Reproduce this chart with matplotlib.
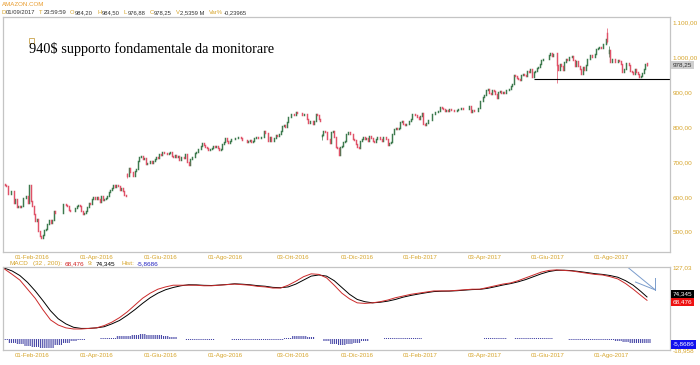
import numpy as np
import pandas as pd
import matplotlib
matplotlib.use("Agg")
import matplotlib.pyplot as plt
import matplotlib.transforms as mtrans
from matplotlib.patches import Rectangle

# AMAZON.COM daily closes, 05-Jan-2016 .. 01-Sep-2017
close_2016 = [
    633.79, 632.65, 607.94, 607.05, 617.74, 617.89, 581.81, 593.00, 570.18, 574.48,
    571.77, 575.02, 596.38, 596.53, 601.25, 583.35, 635.35, 587.00,
    574.81, 552.10, 531.07, 536.26, 502.13, 488.10, 482.07, 490.48, 503.82, 507.08,
    521.10, 534.10, 525.00, 534.90, 559.50, 552.94, 554.04, 555.15, 555.23, 552.52,
    579.04, 580.21, 577.49, 575.14, 562.80, 560.26, 559.47, 558.93, 569.61, 573.37,
    577.02, 574.27, 559.44, 552.08, 553.98, 560.48, 569.63, 582.95, 579.87, 593.86,
    598.69, 593.64,
    598.50, 593.19, 586.14, 602.08, 591.43, 594.60, 595.93, 603.17, 614.82, 620.75,
    625.89, 635.35, 627.90, 632.99, 631.00, 620.50, 626.20, 616.88, 606.57, 602.00,
    659.59,
    683.85, 671.32, 670.90, 659.09, 673.95, 679.75, 703.07, 713.23, 717.93, 709.92,
    710.66, 695.27, 697.45, 698.52, 702.80, 696.75, 704.20, 708.35, 714.91, 712.24,
    722.79,
    719.44, 728.24, 725.54, 726.73, 723.74, 726.64, 727.65, 717.91, 715.24, 719.30,
    714.26, 717.51, 706.39, 714.01, 715.82, 710.60, 722.08, 698.96, 691.36, 707.95,
    715.60, 715.62,
    725.68, 728.10, 737.61, 736.57, 745.81, 753.78, 748.21, 742.63, 741.20, 735.44,
    736.07, 739.95, 745.72, 744.43, 744.86, 739.61, 735.59, 736.67, 752.61, 758.81,
    767.74, 760.58, 754.64, 760.77, 765.98, 766.56, 768.31, 768.56, 771.24, 772.56,
    768.49, 764.04, 764.63, 764.46, 757.31, 759.48, 762.45, 757.25, 759.22, 769.00,
    771.29, 767.58, 769.16,
    770.62, 772.44, 788.87, 784.48, 784.06, 760.14, 771.49, 761.01, 761.09, 769.69,
    778.52, 775.10, 780.22, 789.74, 804.70, 805.75, 799.16, 816.11, 828.72, 829.05,
    837.31,
    836.74, 834.03, 844.36, 841.66, 839.43, 841.71, 834.09, 837.04, 836.53, 822.96,
    812.95, 817.65, 817.69, 810.32, 818.99, 838.09, 835.18, 822.59, 818.36, 776.32,
    789.82,
    785.41, 765.56, 767.03, 755.05, 784.93, 787.75, 771.88, 742.38, 739.01, 719.07,
    743.24, 746.49, 756.40, 760.16, 780.00, 785.33, 780.12, 780.37, 766.77, 762.52,
    750.57,
    743.65, 740.34, 759.36, 764.72, 770.42, 767.33, 768.66, 760.12, 774.34, 768.82,
    761.00, 757.77, 766.00, 771.22, 770.60, 766.34, 760.59, 771.40, 772.13, 765.15,
    749.87,
]
close_2017 = [
    753.67, 757.18, 780.45, 795.99, 796.92, 795.90, 799.02, 813.64, 817.14, 809.72,
    807.48, 809.04, 808.33, 817.88, 822.44, 836.52, 839.15, 835.77, 830.38, 823.48,
    832.35, 839.95, 810.20, 807.64, 812.50, 819.71, 821.36, 821.95, 836.53, 836.39,
    842.70, 844.14, 845.07, 856.44, 855.61, 852.19, 845.24, 848.64, 845.04,
    853.08, 848.91, 849.88, 846.61, 846.02, 850.50, 853.00, 852.46, 854.59, 852.53,
    852.97, 853.42, 852.31, 861.41, 843.20, 848.06, 847.38, 845.61, 846.82, 856.00,
    874.32, 876.34, 886.54,
    891.51, 906.83, 909.28, 898.28, 894.88, 907.04, 902.36, 896.23, 884.67, 901.99,
    903.78, 899.20, 902.06, 898.53, 907.41, 907.62, 909.29, 918.38, 924.99,
    948.23, 946.94, 941.03, 937.53, 934.15, 949.04, 952.82, 948.95, 947.62, 961.35,
    957.97, 966.07, 944.76, 958.49, 959.84, 970.67, 971.54, 980.35, 993.38, 995.78,
    996.70, 994.62,
    995.95, 1006.73, 1011.34, 1003.00, 1010.07, 1010.27, 978.31, 964.91, 980.79, 976.47,
    964.17, 987.71, 995.17, 992.59, 1002.23, 1001.30, 1003.74, 993.98, 976.78, 990.33,
    975.93, 968.00,
    953.66, 971.40, 965.14, 978.76, 996.47, 994.13, 1006.51, 1000.63, 1001.81, 1010.04,
    1024.38, 1026.87, 1028.70, 1025.67, 1038.95, 1039.87, 1052.80, 1046.00, 1020.04, 987.78,
    996.19, 995.89, 986.92, 987.58, 992.27, 989.84, 982.01, 956.92, 967.99, 983.30,
    982.74, 978.18, 960.57, 958.47, 953.29, 966.90, 958.00, 952.45, 945.26, 946.02,
    954.06, 967.59, 980.60,
    978.25,
]
first_open = 636.99
holidays = ['2016-01-18', '2016-02-15', '2016-03-25', '2016-05-30', '2016-07-04',
            '2016-09-05', '2016-11-24', '2016-12-26', '2017-01-02', '2017-01-16',
            '2017-02-20', '2017-04-14', '2017-05-29', '2017-07-04']

# bars with gaps / long shadows
gap_days = ['2016-04-29', '2016-10-28', '2017-06-09', '2017-07-27', '2017-07-28', '2017-09-01']
gap_open = [666.83, 775.48, 1012.50, 1069.55, 1012.59, 984.20]
gap_high = [669.98, 781.50, 1012.99, 1083.31, 1032.85, 984.50]
gap_low = [654.50, 763.45, 927.00, 1040.18, 1001.52, 976.88]

price_ticks = [500, 600, 700, 800, 900, 1000, 1100]
price_labels = ['500,00', '600,00', '700,00', '800,00', '900,00', '1.000,00', '1.100,00']
last_price = 978.25

date_ticks = ['2016-02-01', '2016-04-01', '2016-06-01', '2016-08-01', '2016-10-03',
              '2016-12-01', '2017-02-01', '2017-04-03', '2017-06-01', '2017-08-01']
date_labels = ['01-Feb-2016', '01-Apr-2016', '01-Giu-2016', '01-Ago-2016', '03-Ott-2016',
               '01-Dic-2016', '01-Feb-2017', '03-Apr-2017', '01-Giu-2017', '01-Ago-2017']

support = 938
support_from = '2017-05-18'

# MACD (32, 200) and signal (9), one reading every 5 bars + last bar
macd_step = 5
macd_line = [
    123.5, 114, 104, 88, 72, 52, 34, 25, 20, 18,
    18, 19, 20, 24, 30, 38, 48, 60, 72, 81,
    88, 92, 95, 95, 95, 95, 94, 94, 95, 96,
    97, 96, 95, 93, 92, 90, 90, 95, 102, 110,
    115, 114, 108, 95, 81, 71, 64, 63, 64, 66,
    69, 73, 76, 79, 81, 83, 85, 85, 85, 86,
    87, 88, 88, 91, 94, 97, 99, 103, 108, 113,
    118, 121, 122, 121, 120, 118, 116, 114, 113, 110,
    106, 98, 88, 77, 68.476,
]
signal_line = [
    125, 120, 112, 100, 85, 68, 50, 36, 27, 21,
    19, 19, 20, 22, 27, 33, 42, 52, 63, 73,
    81, 87, 91, 94, 95.8, 95.6, 94.8, 94.5, 95.3, 96.2,
    97.5, 96.8, 95.8, 94.2, 93.2, 91.2, 90.6, 92, 97, 104,
    111, 113, 111, 103, 91, 79, 70, 66, 64, 65,
    67, 70, 74, 77, 79.5, 81.8, 83.8, 84.4, 84.6, 85.3,
    86.3, 87.3, 87.7, 89.5, 92.3, 95.3, 97.8, 101, 105, 110,
    115, 119, 121.2, 121.4, 120.6, 119, 117.2, 115.3, 114, 112,
    109, 103, 95, 84, 74.345,
]
macd_lo, macd_hi = -18.958, 127.03

GOLD = '#d6a42a'
GREEN = '#3d7a4e'
RED = '#e05268'
FRAME = '#c4c4c4'
DARK = '#333333'
plt.rcParams['font.family'] = ['Liberation Sans', 'DejaVu Sans']
plt.rcParams['hatch.linewidth'] = 0.8

close = np.array(close_2016 + close_2017)
dates = pd.bdate_range('2016-01-05', '2017-09-01', freq='C', holidays=holidays)
dates = dates[:len(close)]
x = np.arange(len(close))
opn = np.r_[first_open, close[:-1]]
high = np.maximum(opn, close)
low = np.minimum(opn, close)
for d, o, h, l in zip(gap_days, gap_open, gap_high, gap_low):
    i = dates.get_loc(pd.Timestamp(d))
    opn[i], high[i], low[i] = o, h, l

W, H = 700, 365
fig = plt.figure(figsize=(W / 100, H / 100), dpi=100)
renderer = fig.canvas.get_renderer()


def px(xp, yp):
    return xp / W, 1 - yp / H


ax1 = fig.add_axes([3 / W, 1 - 252 / H, 667 / W, 235 / H])
ax2 = fig.add_axes([3 / W, 1 - 350 / H, 667 / W, 83 / H])

# candles
up = close >= opn
for mask, col in ((up, GREEN), (~up, RED)):
    ax1.vlines(x[mask], low[mask], high[mask], color=col, lw=0.5)
    lc = ax1.vlines(x[mask], np.minimum(opn, close)[mask], np.maximum(opn, close)[mask],
                    color=col, lw=1.05)
    lc.set_capstyle('projecting')

i0 = dates.get_loc(pd.Timestamp(support_from))
ax1.hlines(support, i0, 440, color='black', lw=0.8)

ax1.set_ylim(442, 1116)
tick_idx = [dates.searchsorted(pd.Timestamp(d)) for d in date_ticks]
for ax in (ax1, ax2):
    ax.set_xlim(-1, 434)
    for s in ax.spines.values():
        s.set_color(FRAME)
        s.set_linewidth(0.9)
    ax.yaxis.tick_right()
    ax.set_xticks(tick_idx)
    ax.set_xticklabels(date_labels)
    ax.tick_params(length=0, labelsize=4.4, labelcolor=GOLD, pad=2)
    ax.tick_params(axis='y', pad=2, labelsize=4.6)

ax1.set_yticks(price_ticks)
ax1.set_yticklabels(price_labels)
trans1 = mtrans.blended_transform_factory(ax1.transAxes, ax1.transData)
ax1.text(1.004, last_price, '978,25', transform=trans1, fontsize=4.6, color=DARK,
         va='center', ha='left',
         bbox=dict(boxstyle='square,pad=0.25', fc='#cfcfcf', ec='none'))

# MACD panel
mx = np.r_[np.arange(0, len(close), macd_step), len(close) - 1]
macd = np.array(macd_line)
sig = np.array(signal_line)
hist = macd - sig
ax2.bar(mx, hist, width=macd_step, color='white', edgecolor='#4646a6', lw=0,
        hatch='|' * 8)
ax2.plot(mx, sig, color='black', lw=0.7)
ax2.plot(mx, macd, color='#cc2a2a', lw=0.7)
ax2.set_ylim(macd_lo, macd_hi)
ax2.set_yticks([macd_lo, macd_hi])
ax2.set_yticklabels(['-18,958', '127,03'])

trans2 = mtrans.blended_transform_factory(ax2.transAxes, ax2.transData)
for val, txt, fc, dy in ((sig[-1], '74,345', 'black', 5), (macd[-1], '68,476', '#ee1111', -3),
                         (hist[-1], '-5,8686', '#1010ee', -3)):
    ax2.text(1.004, val + dy, txt, transform=trans2, fontsize=4.6, color='white',
             va='center', ha='left',
             bbox=dict(boxstyle='square,pad=0.3', fc=fc, ec='none'))

# hand-drawn arrow
arrow_col = '#7a9ccc'
ax2.plot([407, 424.5], [125.3, 86.6], color=arrow_col, lw=0.7)
ax2.plot([411.5, 424.5], [100.6, 86.6], color=arrow_col, lw=0.7)
ax2.plot([424.5, 424.5], [107.7, 86.6], color=arrow_col, lw=0.7)


def text_row(items, x0, yp, size):
    # lay the pieces out one after the other
    xp = x0
    for t, c, gap in items:
        tx = fig.text(*px(xp, yp), t, fontsize=size, color=c, va='center')
        xp += tx.get_window_extent(renderer).width + gap


fig.text(*px(2, 4), 'AMAZON.COM', fontsize=4.4, color='#e89a2a', va='center')
text_row([('D', GOLD, 0.5), ('01/09/2017', DARK, 4), ('T', GOLD, 0.5), ('23:59:59', DARK, 4),
          ('O', GOLD, 0.5), ('984,20', DARK, 4), ('H', GOLD, 0.5), ('984,50', DARK, 4),
          ('L', GOLD, 0.5), ('976,88', DARK, 4), ('C', GOLD, 0.5), ('978,25', DARK, 4),
          ('V', GOLD, 0.5), ('2,5359 M', DARK, 4), ('Var%', GOLD, 1.5), ('-0,23965', DARK, 0)],
         1, 13, 4.2)
text_row([('MACD', GOLD, 5), ('(32 , 200):', GOLD, 3), ('68,476', '#d02020', 3),
          ('9:', GOLD, 3), ('74,345', 'black', 6), ('Hist:', GOLD, 3),
          ('-5,8686', '#2020c0', 0)], 9, 263.5, 4.6)

fig.text(*px(29, 49), '940$ supporto fondamentale da monitorare', fontsize=10.3,
         family='Liberation Serif', color='black', va='center')
fig.add_artist(Rectangle(px(29, 43), 5 / W, 5 / H, transform=fig.transFigure,
                         fill=False, ec='#c9a24a', lw=0.6))

fig.savefig('out.png', dpi=100)
